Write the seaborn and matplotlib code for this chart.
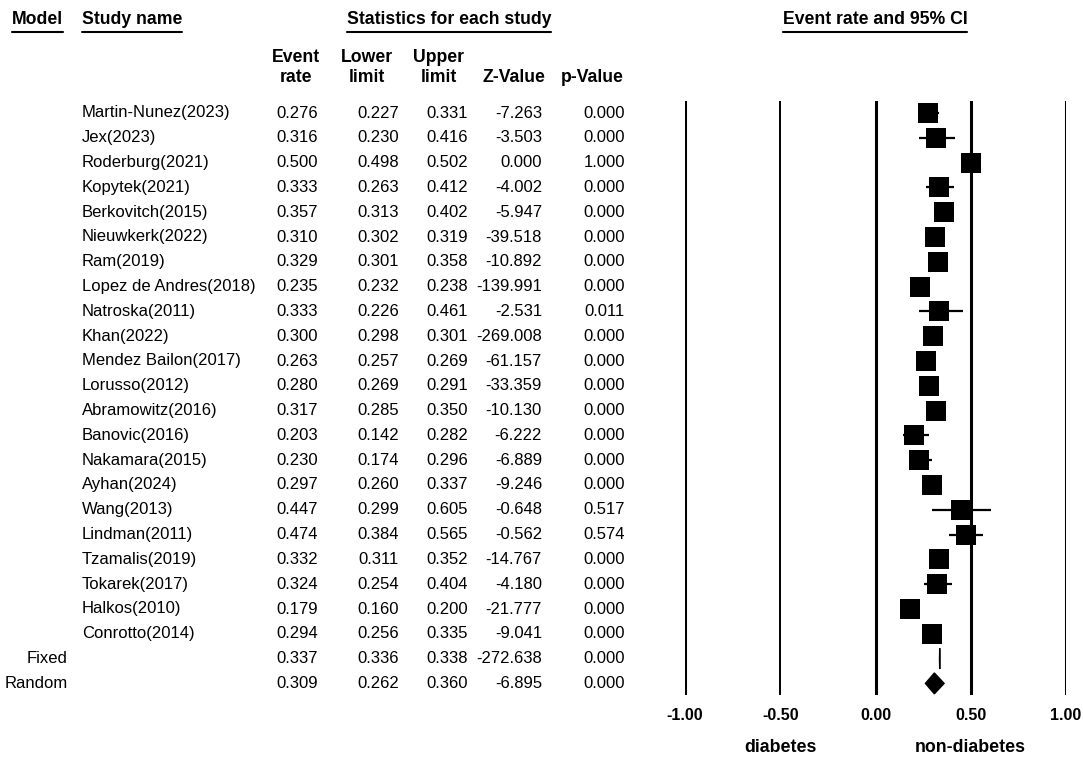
import matplotlib
matplotlib.use("Agg")
import pandas as pd
from matplotlib import pyplot as plt
from matplotlib import transforms
from matplotlib.lines import Line2D
import seaborn as sns

# Study data
studies = ["Martin-Nunez(2023)", "Jex(2023)", "Roderburg(2021)", "Kopytek(2021)",
           "Berkovitch(2015)", "Nieuwkerk(2022)", "Ram(2019)", "Lopez de Andres(2018)",
           "Natroska(2011)", "Khan(2022)", "Mendez Bailon(2017)", "Lorusso(2012)",
           "Abramowitz(2016)", "Banovic(2016)", "Nakamara(2015)", "Ayhan(2024)",
           "Wang(2013)", "Lindman(2011)", "Tzamalis(2019)", "Tokarek(2017)",
           "Halkos(2010)", "Conrotto(2014)"]
event_rate = [0.276, 0.316, 0.500, 0.333, 0.357, 0.310, 0.329, 0.235, 0.333, 0.300, 0.263,
              0.280, 0.317, 0.203, 0.230, 0.297, 0.447, 0.474, 0.332, 0.324, 0.179, 0.294]
lower_limit = [0.227, 0.230, 0.498, 0.263, 0.313, 0.302, 0.301, 0.232, 0.226, 0.298, 0.257,
               0.269, 0.285, 0.142, 0.174, 0.260, 0.299, 0.384, 0.311, 0.254, 0.160, 0.256]
upper_limit = [0.331, 0.416, 0.502, 0.412, 0.402, 0.319, 0.358, 0.238, 0.461, 0.301, 0.269,
               0.291, 0.350, 0.282, 0.296, 0.337, 0.605, 0.565, 0.352, 0.404, 0.200, 0.335]
z_value = [-7.263, -3.503, 0.000, -4.002, -5.947, -39.518, -10.892, -139.991, -2.531,
           -269.008, -61.157, -33.359, -10.130, -6.222, -6.889, -9.246, -0.648, -0.562,
           -14.767, -4.180, -21.777, -9.041]
p_value = [0.000, 0.000, 1.000, 0.000, 0.000, 0.000, 0.000, 0.000, 0.011, 0.000, 0.000,
           0.000, 0.000, 0.000, 0.000, 0.000, 0.517, 0.574, 0.000, 0.000, 0.000, 0.000]

# Pooled estimates
models = ["Fixed", "Random"]
model_rate = [0.337, 0.309]
model_lower = [0.336, 0.262]
model_upper = [0.338, 0.360]
model_z = [-272.638, -6.895]
model_p = [0.000, 0.000]

xticks = [-1.0, -0.5, 0.0, 0.5, 1.0]
side_labels = {-0.5: "diabetes", 0.5: "non-diabetes"}

sns.set_style("white")
plt.rcParams["font.family"] = ["Liberation Sans", "DejaVu Sans"]
plt.rcParams["text.color"] = "black"
plt.rcParams["xtick.color"] = "black"

W, H = 1083, 758
fig = plt.figure(figsize=(W / 100, H / 100), dpi=100)


def fx(px):
    return px / W


def fy(py):
    return 1 - py / H


# forest axes placed in pixel terms
row0, step = 113, 24.8
ax_top, ax_bot = 101, 695
ax = fig.add_axes([fx(685), fy(ax_bot), fx(1066) - fx(685), (ax_bot - ax_top) / H])

n_studies = len(studies)
df = pd.DataFrame({"study": studies, "rate": event_rate, "lower": lower_limit,
                   "upper": upper_limit, "z": z_value, "p": p_value,
                   "row": range(n_studies)})
pooled = pd.DataFrame({"model": models, "rate": model_rate, "lower": model_lower,
                       "upper": model_upper, "z": model_z, "p": model_p,
                       "row": range(n_studies, n_studies + len(models))})

# reference lines
for t in xticks:
    ax.axvline(t, color="black", lw=1.4 if t == -0.5 else 2.2, zorder=1)

# confidence intervals and point estimates
ax.hlines(df["row"], df["lower"], df["upper"], color="black", lw=1.6, zorder=2)
sns.scatterplot(data=df, x="rate", y="row", marker="s", s=195, color="black",
                linewidth=0, ax=ax, zorder=3)

# pooled diamonds
for _, r in pooled.iterrows():
    h = 0.42
    ax.fill([r["lower"], r["rate"], r["upper"], r["rate"]],
            [r["row"], r["row"] - h, r["row"], r["row"] + h],
            color="black", lw=1.0, zorder=3)

ax.set_xlim(-1, 1)
ax.set_ylim((ax_bot - row0) / step, (ax_top - row0) / step)
ax.set_xticks(xticks)
ax.set_xticklabels([f"{t:.2f}" for t in xticks], fontweight="bold", fontsize=11.5)
ax.tick_params(axis="x", length=0, pad=9)
ax.set_yticks([])
ax.set_xlabel("")
ax.set_ylabel("")
for s in ax.spines.values():
    s.set_visible(False)

side_trans = transforms.blended_transform_factory(ax.transData, fig.transFigure)
for x, lab in side_labels.items():
    ax.text(x, fy(748), lab, transform=side_trans, ha="center", va="center",
            fontweight="bold", fontsize=12.8, clip_on=False)

# table text
row_trans = transforms.blended_transform_factory(fig.transFigure, ax.transData)
col_right = [318, 399, 468, 542, 625]
fs = 12


def write_row(row, label, vals, label_x, label_ha):
    ax.text(fx(label_x), row, label, transform=row_trans, ha=label_ha, va="center",
            fontsize=fs, clip_on=False)
    for xr, v in zip(col_right, vals):
        ax.text(fx(xr), row, f"{v:.3f}", transform=row_trans, ha="right", va="center",
                fontsize=fs, clip_on=False)


for _, r in df.iterrows():
    write_row(r["row"], r["study"], [r["rate"], r["lower"], r["upper"], r["z"], r["p"]],
              82, "left")
for _, r in pooled.iterrows():
    write_row(r["row"], r["model"], [r["rate"], r["lower"], r["upper"], r["z"], r["p"]],
              68, "right")

# headers
hfs = 12.7
underlined = [
    fig.text(fx(12), fy(20), "Model", ha="left", va="center", fontweight="bold", fontsize=hfs),
    fig.text(fx(82), fy(20), "Study name", ha="left", va="center", fontweight="bold", fontsize=hfs),
    fig.text(fx(449), fy(20), "Statistics for each study", ha="center", va="center",
             fontweight="bold", fontsize=hfs),
    fig.text(fx(875), fy(20), "Event rate and 95% CI", ha="center", va="center",
             fontweight="bold", fontsize=hfs),
]
col_heads = [(296, "Event", "rate"), (367, "Lower", "limit"), (439, "Upper", "limit"),
             (514, "", "Z-Value"), (592, "", "p-Value")]
for xc, l1, l2 in col_heads:
    if l1:
        fig.text(fx(xc), fy(57), l1, ha="center", va="center", fontweight="bold", fontsize=hfs)
    fig.text(fx(xc), fy(77), l2, ha="center", va="center", fontweight="bold", fontsize=hfs)

fig.canvas.draw()
renderer = fig.canvas.get_renderer()
for t in underlined:
    bb = t.get_window_extent(renderer)
    fig.add_artist(Line2D([bb.x0 / W, bb.x1 / W], [fy(32), fy(32)],
                          transform=fig.transFigure, color="black", lw=1.5))

fig.savefig("out.png", dpi=100, facecolor="white")
